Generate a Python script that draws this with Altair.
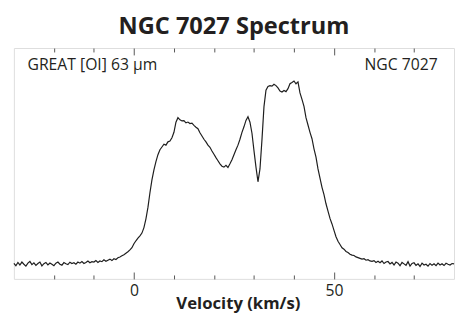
import altair as alt
import numpy as np
import pandas as pd

# Channel velocities (km/s): -30 .. 80 in 0.5 km/s steps
v_start, v_step = -30.0, 0.5
intensity = [
    # -30.0 .. -25.5
    0.005, -0.008, 0.010, -0.004, 0.012, 0.000, -0.010, 0.006, 0.015, -0.002,
    # -25.0 .. -20.5
    0.008, -0.006, 0.004, 0.012, -0.009, 0.003, 0.010, -0.004, 0.007, 0.000,
    # -20.0 .. -15.5
    -0.008, 0.006, 0.012, 0.000, -0.005, 0.009, 0.003, -0.002, 0.011, 0.004,
    # -15.0 .. -10.5
    0.008, 0.000, 0.012, 0.006, 0.015, 0.004, 0.010, 0.018, 0.008, 0.014,
    # -10.0 .. -5.5
    0.012, 0.020, 0.010, 0.018, 0.014, 0.024, 0.016, 0.022, 0.028, 0.020,
    # -5.0 .. -0.5
    0.030, 0.026, 0.035, 0.040, 0.046, 0.052, 0.060, 0.068, 0.078, 0.090,
    # 0.0 .. 4.5
    0.112, 0.128, 0.142, 0.155, 0.170, 0.200, 0.248, 0.310, 0.390, 0.460,
    # 5.0 .. 9.5
    0.515, 0.560, 0.598, 0.625, 0.640, 0.655, 0.650, 0.668, 0.672, 0.690,
    # 10.0 .. 14.5
    0.720, 0.775, 0.800, 0.788, 0.782, 0.784, 0.772, 0.776, 0.768, 0.770,
    # 15.0 .. 19.5
    0.758, 0.748, 0.740, 0.718, 0.700, 0.682, 0.668, 0.650, 0.638, 0.618,
    # 20.0 .. 24.5
    0.600, 0.582, 0.565, 0.548, 0.535, 0.530, 0.540, 0.528, 0.548, 0.570,
    # 25.0 .. 29.5
    0.598, 0.625, 0.650, 0.682, 0.720, 0.750, 0.785, 0.805, 0.775, 0.715,
    # 30.0 .. 34.5
    0.620, 0.530, 0.450, 0.520, 0.680, 0.860, 0.950, 0.970, 0.975, 0.972,
    # 35.0 .. 39.5
    0.982, 0.975, 0.962, 0.945, 0.940, 0.948, 0.942, 0.958, 0.985, 0.992,
    # 40.0 .. 44.5
    1.000, 0.985, 0.995, 0.935, 0.900, 0.862, 0.800, 0.760, 0.720, 0.685,
    # 45.0 .. 49.5
    0.630, 0.585, 0.520, 0.470, 0.420, 0.380, 0.330, 0.290, 0.250, 0.220,
    # 50.0 .. 54.5
    0.185, 0.150, 0.125, 0.108, 0.090, 0.082, 0.070, 0.064, 0.055, 0.050,
    # 55.0 .. 59.5
    0.048, 0.040, 0.036, 0.032, 0.028, 0.030, 0.022, 0.025, 0.018, 0.016,
    # 60.0 .. 64.5
    0.020, 0.010, 0.016, 0.008, 0.018, 0.004, 0.012, 0.015, 0.002, 0.010,
    # 65.0 .. 69.5
    -0.004, 0.012, 0.006, -0.008, 0.010, 0.002, -0.006, 0.014, -0.010, 0.004,
    # 70.0 .. 74.5
    0.008, -0.006, 0.002, -0.012, 0.006, -0.004, 0.000, -0.010, 0.004, -0.006,
    # 75.0 .. 80.0
    0.002, -0.008, 0.006, -0.004, 0.003, -0.007, 0.005, 0.000, -0.004, 0.004, 0.002,
]
velocity = [v_start + i * v_step for i in range(len(intensity))]

major_ticks = [0, 50]
minor_ticks = [-20, -10, 10, 20, 30, 40, 60, 70]

title_text = "NGC 7027 Spectrum"
x_title = "Velocity (km/s)"
left_label = ["GREAT [OI] 63 µm"]
left_label_v = [-26.6]
right_label = ["NGC 7027"]
right_label_v = [75.9]
label_T = [1.06]

df = pd.DataFrame({"v": velocity, "T": intensity})
df_left = pd.DataFrame({"v": left_label_v, "T": label_T, "t": left_label})
df_right = pd.DataFrame({"v": right_label_v, "T": label_T, "t": right_label})

FONT = "Open Sans"
INK = "#231f20"
FRAME = "#555555"
TICK = "#555555"

xscale = alt.Scale(domain=[-30, 80], nice=False, zero=False)
yscale = alt.Scale(domain=[-0.08, 1.18], nice=False, zero=False)

common = dict(ticks=True, tickColor=TICK, tickWidth=1, tickOpacity=1,
              domain=False, grid=False, zindex=5)

# Ticks point inward: the axis is pulled inside the frame by its tick length.
ax_bottom_major = alt.Axis(
    orient="bottom", values=major_ticks, tickSize=7, offset=-7,
    labelFont=FONT, labelFontSize=16, labelColor=INK, labelPadding=4,
    title=x_title, titleFont=FONT, titleFontSize=17, titleFontWeight="bold",
    titleColor=INK, titleBaseline="alphabetic", titleAlign="center",
    titleX=228, titleY=37, **common)
ax_bottom_minor = alt.Axis(
    orient="bottom", values=minor_ticks, tickSize=4, offset=-4,
    labels=False, title=None, **common)
ax_top_major = alt.Axis(
    orient="top", values=major_ticks, tickSize=7, offset=-7,
    labels=False, title=None, **common)
ax_top_minor = alt.Axis(
    orient="top", values=minor_ticks, tickSize=4, offset=-4,
    labels=False, title=None, **common)

base = alt.Chart(df)

line = base.mark_line(color="#1e1e1e", strokeWidth=1.2).encode(
    x=alt.X("v:Q", scale=xscale, axis=ax_bottom_major),
    y=alt.Y("T:Q", scale=yscale, axis=None),
)


def ghost(axis):
    return base.mark_line(strokeOpacity=0).encode(
        x=alt.X("v:Q", scale=xscale, axis=axis),
        y=alt.Y("T:Q", scale=yscale, axis=None),
    )


left_txt = alt.Chart(df_left).mark_text(
    align="left", baseline="alphabetic", font=FONT, fontSize=16, color=INK
).encode(
    x=alt.X("v:Q", scale=xscale, axis=None),
    y=alt.Y("T:Q", scale=yscale, axis=None),
    text="t:N",
)
right_txt = alt.Chart(df_right).mark_text(
    align="right", baseline="alphabetic", font=FONT, fontSize=16, color=INK
).encode(
    x=alt.X("v:Q", scale=xscale, axis=None),
    y=alt.Y("T:Q", scale=yscale, axis=None),
    text="t:N",
)

chart = alt.layer(
    line, ghost(ax_bottom_minor), ghost(ax_top_major), ghost(ax_top_minor),
    left_txt, right_txt,
).resolve_axis(x="independent").properties(
    width=448, height=235,
    title=alt.TitleParams(title_text, font=FONT, fontSize=24, fontWeight="bold",
                          color=INK, anchor="middle", baseline="alphabetic",
                          offset=-10),
    autosize=alt.AutoSizeParams(type="none"),
    padding={"left": 6, "top": 38, "right": 2, "bottom": 34},
).configure_view(stroke=FRAME, strokeWidth=1).configure(background="white")

chart.save("out.html", embed_options={"renderer": "svg", "actions": False})
